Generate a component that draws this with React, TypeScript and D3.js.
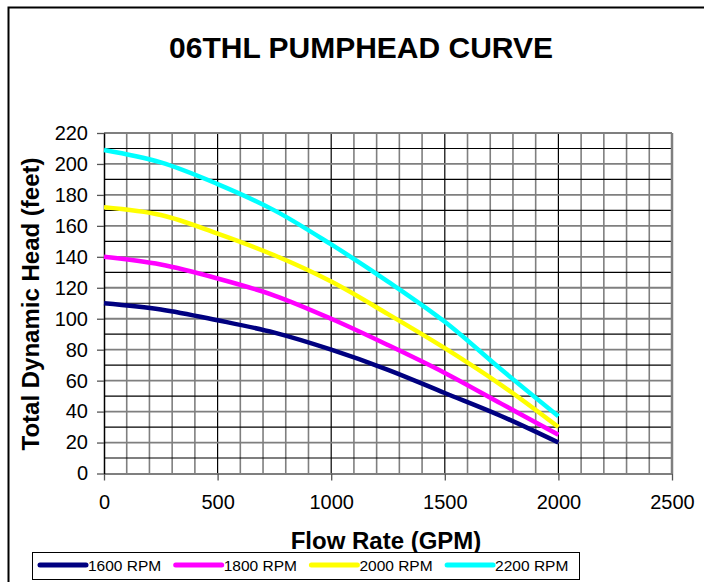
import React, { useEffect, useRef } from 'react';
import * as d3 from 'd3';

// flow rate (GPM) sample points shared by every curve
const flow = [0, 250, 500, 750, 1000, 1250, 1500, 1750, 2000];
// total dynamic head (feet) per pump speed
const head1600 = [110, 106, 99, 91, 80, 67, 52, 37, 20];
const head1800 = [140, 135, 126, 115, 100, 83, 65, 45, 25];
const head2000 = [172, 167, 155, 141, 124, 103, 81, 57, 30];
const head2200 = [209, 201, 187, 170, 148, 124, 98, 67, 37];

const seriesNames = ['1600 RPM', '1800 RPM', '2000 RPM', '2200 RPM'];
const seriesColors = ['#000080', '#FF00FF', '#FFFF00', '#00FFFF'];
const xTicks = [0, 500, 1000, 1500, 2000, 2500];
const yTicks = [0, 20, 40, 60, 80, 100, 120, 140, 160, 180, 200, 220];

const font = '"Liberation Sans", Arial, sans-serif';

export default function App() {
  const ref = useRef<SVGSVGElement>(null);

  useEffect(() => {
    const svg = d3.select(ref.current);
    svg.selectAll('*').remove();

    const left = 104, right = 672, top = 133, bottom = 473.5;

    const x = d3.scaleLinear().domain([0, 2500]).range([left, right]);
    const y = d3.scaleLinear().domain([0, 220]).range([bottom, top]);

    // outer chart border (cut off at right and bottom like the source)
    svg.append('rect')
      .attr('x', 8.5).attr('y', 7.5)
      .attr('width', 720).attr('height', 620)
      .attr('fill', 'white').attr('stroke', 'black').attr('stroke-width', 2);

    // title
    svg.append('text')
      .attr('x', 361).attr('y', 58)
      .attr('text-anchor', 'middle')
      .style('font-family', font).style('font-size', '30px').style('font-weight', 'bold')
      .text('06THL PUMPHEAD CURVE');

    const grid = svg.append('g');

    // vertical gridlines every 100 GPM
    d3.range(100, 2500, 100).forEach((v) => {
      const major = v % 500 === 0;
      grid.append('line')
        .attr('x1', x(v)).attr('x2', x(v)).attr('y1', top).attr('y2', bottom)
        .attr('stroke', major ? '#000' : '#7f7f7f')
        .attr('stroke-width', major ? 1.2 : 1.6);
    });

    // horizontal gridlines every 10 feet
    d3.range(10, 220, 10).forEach((v) => {
      const major = v % 20 === 0;
      grid.append('line')
        .attr('x1', left).attr('x2', right).attr('y1', y(v)).attr('y2', y(v))
        .attr('stroke', major ? '#7f7f7f' : '#000')
        .attr('stroke-width', major ? 1.8 : 1.2);
    });

    // plot frame
    svg.append('line').attr('x1', left).attr('x2', right).attr('y1', top).attr('y2', top)
      .attr('stroke', '#7f7f7f').attr('stroke-width', 2.2);
    svg.append('line').attr('x1', right).attr('x2', right).attr('y1', top).attr('y2', bottom)
      .attr('stroke', '#7f7f7f').attr('stroke-width', 2.5);

    // x axis
    const xAxis = svg.append('g')
      .attr('transform', `translate(0,${bottom})`)
      .call(d3.axisBottom(x).tickValues(xTicks).tickFormat(d3.format('d'))
        .tickSize(7).tickSizeOuter(0).tickPadding(14));
    xAxis.select('.domain').attr('stroke', '#7f7f7f').attr('stroke-width', 2);
    xAxis.selectAll('.tick line').attr('stroke', '#555').attr('stroke-width', 1.3);
    xAxis.selectAll('text')
      .attr('fill', 'black')
      .style('font-family', font).style('font-size', '20px');

    // y axis
    const yAxis = svg.append('g')
      .attr('transform', `translate(${left},0)`)
      .call(d3.axisLeft(y).tickValues(yTicks).tickFormat(d3.format('d'))
        .tickSize(7).tickSizeOuter(0).tickPadding(9));
    yAxis.select('.domain').attr('stroke', '#000').attr('stroke-width', 1.5);
    yAxis.selectAll('.tick line').attr('stroke', '#555').attr('stroke-width', 1.3);
    yAxis.selectAll('text')
      .attr('fill', 'black')
      .style('font-family', font).style('font-size', '20px');

    // axis titles
    svg.append('text')
      .attr('x', 386).attr('y', 549)
      .attr('text-anchor', 'middle')
      .style('font-family', font).style('font-size', '24px').style('font-weight', 'bold')
      .text('Flow Rate (GPM)');

    svg.append('text')
      .attr('transform', 'translate(39,304) rotate(-90)')
      .attr('text-anchor', 'middle')
      .style('font-family', font).style('font-size', '24px').style('font-weight', 'bold')
      .text('Total Dynamic Head (feet)');

    // curves
    const heads = [head1600, head1800, head2000, head2200];
    const line = d3.line<number>()
      .x((_, i) => x(flow[i]))
      .y((d) => y(d))
      .curve(d3.curveCatmullRom.alpha(0.5));

    heads.forEach((h, i) => {
      svg.append('path')
        .datum(h)
        .attr('d', line)
        .attr('fill', 'none')
        .attr('stroke', seriesColors[i])
        .attr('stroke-width', 4.5);
    });

    // legend
    const legend = svg.append('g');
    legend.append('rect')
      .attr('x', 32.5).attr('y', 552.5).attr('width', 547).attr('height', 27)
      .attr('fill', 'white').attr('stroke', 'black').attr('stroke-width', 1);

    seriesNames.forEach((name, i) => {
      const lx = 38 + i * 135.7;
      legend.append('line')
        .attr('x1', lx + 2).attr('x2', lx + 48).attr('y1', 565).attr('y2', 565)
        .attr('stroke', seriesColors[i]).attr('stroke-width', 5)
        .attr('stroke-linecap', 'round');
      legend.append('text')
        .attr('x', lx + 50).attr('y', 571)
        .style('font-family', font).style('font-size', '15.5px')
        .text(name);
    });
  }, []);

  return (
    <svg
      ref={ref}
      width={704}
      height={582}
      style={{ position: 'absolute', left: 0, top: 0, background: 'white' }}
    />
  );
}
